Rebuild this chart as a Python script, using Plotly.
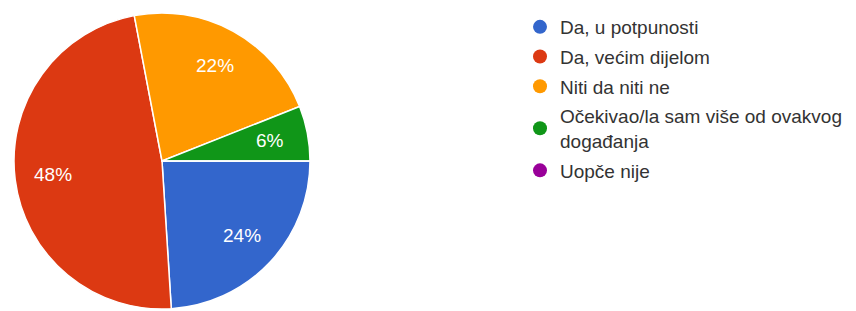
import math
import plotly.graph_objects as go

labels = ["Da, u potpunosti", "Da, većim dijelom", "Niti da niti ne",
          "Očekivao/la sam više od ovakvog<br>događanja", "Uopče nije"]
values = [24, 48, 22, 6, 0]
colors = ["#3366cc", "#dc3912", "#ff9900", "#109618", "#990099"]

# page has an 8px body margin, so the figure is 8px smaller on each axis
W, H = 848, 303
dom_x = [6 / W, 302 / W]
dom_y = [2 / H, 298 / H]

fig = go.Figure()
fig.add_trace(go.Pie(
    labels=labels, values=values, sort=False, direction="clockwise", rotation=90,
    marker=dict(colors=colors, line=dict(color="white", width=1.5)),
    textinfo="none", showlegend=False, hoverinfo="label+percent",
    domain=dict(x=dom_x, y=dom_y),
))

# percentage labels placed along each slice's bisector (Google Forms style)
total = sum(values)
cx = (dom_x[0] + dom_x[1]) / 2 * W
cy = (dom_y[0] + dom_y[1]) / 2 * H
r = min((dom_x[1] - dom_x[0]) * W, (dom_y[1] - dom_y[0]) * H) / 2
cum = 0
for v in values:
    if v > 0:
        mid = (cum + v / 2) / total * 2 * math.pi  # clockwise from east
        px = cx + 0.74 * r * math.cos(mid)
        py = cy - 0.74 * r * math.sin(mid)
        fig.add_annotation(
            x=px / W, y=py / H, xref="paper", yref="paper", showarrow=False,
            xanchor="center", yanchor="middle",
            text=f"{round(100 * v / total)}%",
            font=dict(color="white", size=19, family="Liberation Sans, Arial"),
        )
    cum += v

for i, (lab, col) in enumerate(zip(labels, colors)):
    fig.add_trace(go.Scatter(
        x=[None], y=[None], mode="markers", name=lab,
        marker=dict(color=col, size=14, symbol="circle"),
        legendgroup=f"g{i}", showlegend=True,
    ))
fig.update_layout(
    width=W, height=H, margin=dict(l=0, r=0, t=0, b=0),
    paper_bgcolor="white", plot_bgcolor="white",
    xaxis=dict(visible=False), yaxis=dict(visible=False),
    font=dict(family="Liberation Sans, Arial", size=19, color="#333333"),
    legend=dict(x=512 / W, y=1.0, xanchor="left", yanchor="top",
                tracegroupgap=2, itemclick=False, bgcolor="rgba(0,0,0,0)"),
)
fig.write_html("out.html")
